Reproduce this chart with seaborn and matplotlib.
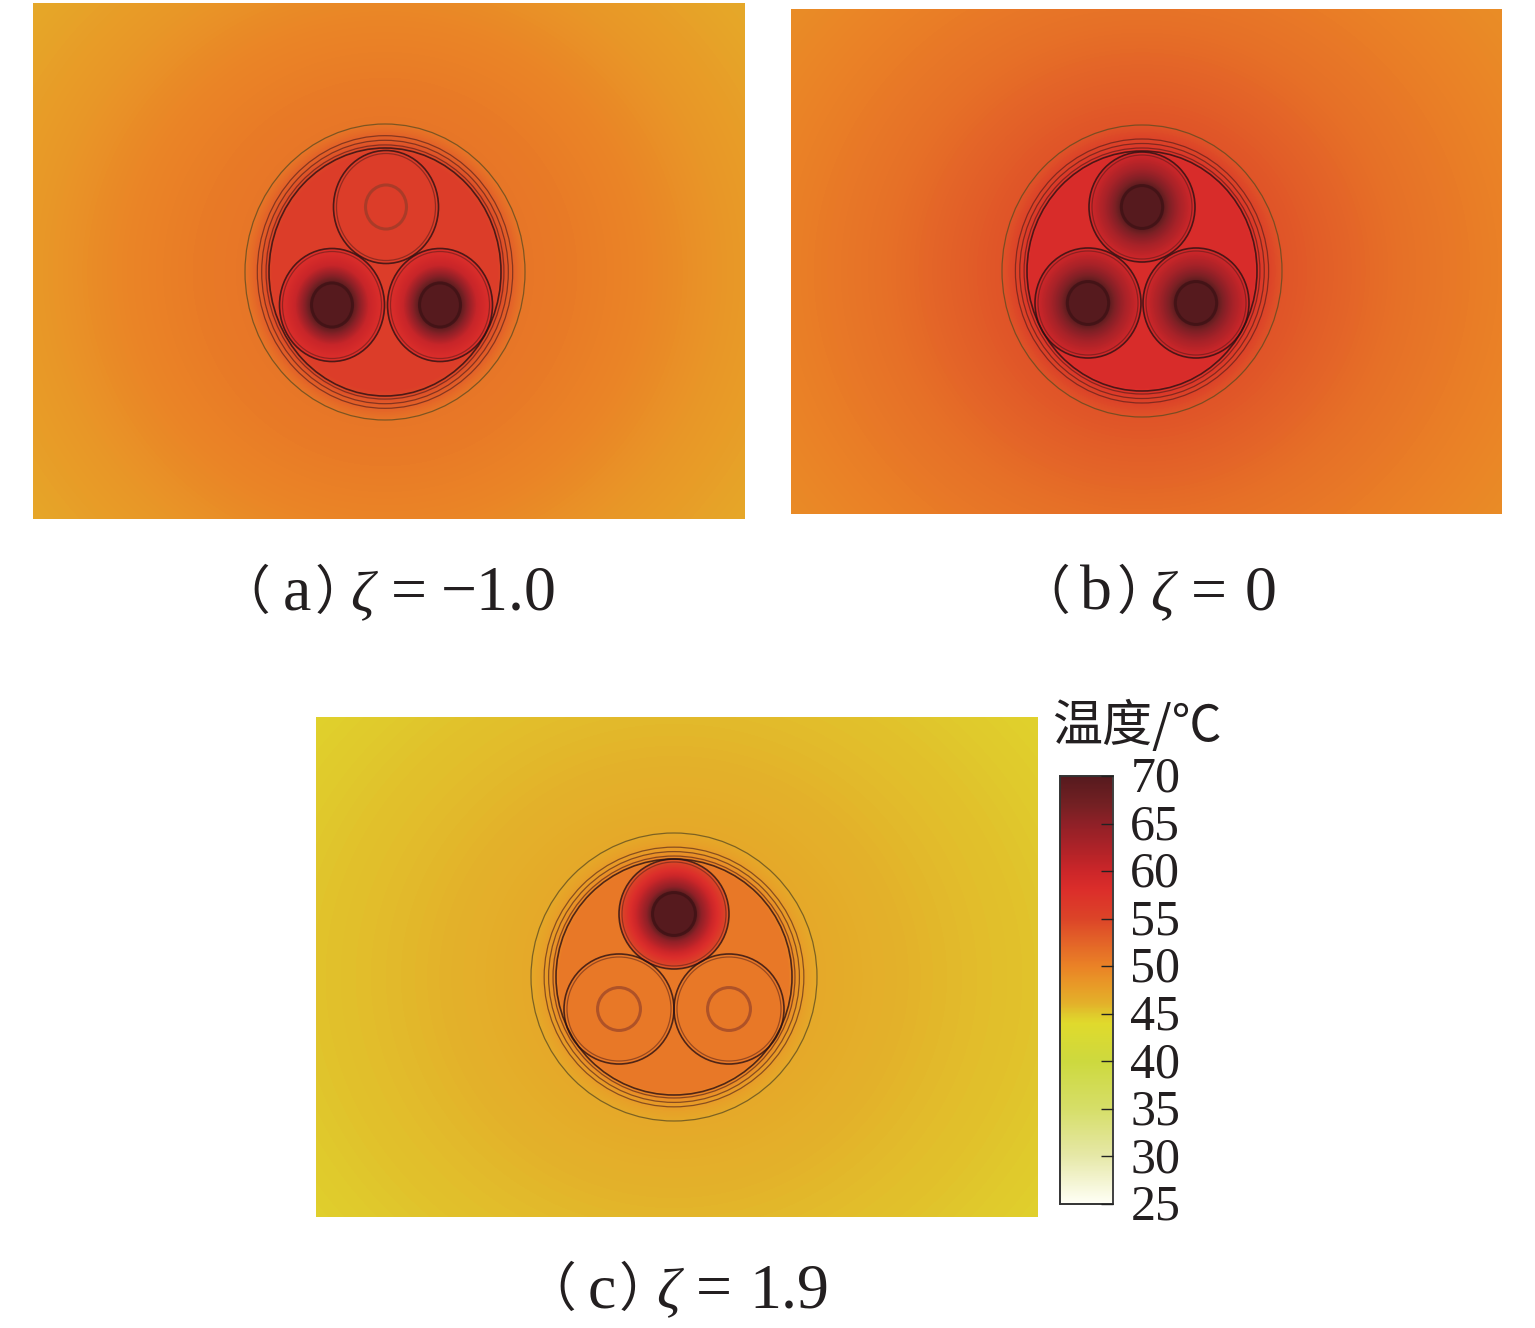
import numpy as np
import matplotlib
matplotlib.use("Agg")
import matplotlib.pyplot as plt
from matplotlib.colors import LinearSegmentedColormap
from matplotlib.patches import Ellipse
from matplotlib.transforms import ScaledTranslation
import seaborn as sns

W, H = 1535, 1328

# colour scale
scale_temps = [25, 30, 35, 40, 44, 45, 46, 48, 50, 53, 55, 58, 60, 62, 65, 67, 70]
scale_colors = ["#fffff6", "#e6e8a8", "#d6de68", "#cdd93e", "#e0da2c", "#e0c82c", "#e3b22a",
                "#e89a27", "#ea8226", "#e25e28", "#dc4428", "#dc2e2a", "#cc2629", "#b32328",
                "#8f2027", "#742023", "#561a1e"]
bar_ticks = [25, 30, 35, 40, 45, 50, 55, 60, 65, 70]

# panel boxes in picture pixels: left, top, right, bottom
box_a = [33, 3, 745, 519]
box_b = [791, 9, 1502, 514]
box_c = [316, 717, 1038, 1217]

# cable geometry in picture pixels
center_a = [385, 272]; outer_a = [140, 148]; jacket_a = [116, 124]
center_b = [1142, 271]; outer_b = [140, 146]; jacket_b = [115, 120]
center_c = [674, 977]; outer_c = [143, 144]; jacket_c = [118, 118]
cores_a = [[386, 207], [332, 305], [440, 305]]; core_r_a = [52.5, 56.5]
cores_b = [[1142, 207], [1088, 303], [1196, 303]]; core_r_b = [53, 55]
cores_c = [[674, 914], [619, 1009], [729, 1009]]; core_r_c = [55, 55]

# temperature read along the distance from the cable axis (1 = outer sheath)
dist_stops = [0, 0.80, 0.88, 1.0, 1.3, 1.7, 2.2, 2.8, 3.3]
temps_a = [56, 56, 53.5, 51, 50.6, 49.8, 48.3, 47, 46.5]
temps_b = [58.5, 58.5, 55.5, 53.8, 52.8, 51.5, 50.4, 49.2, 48.8]
temps_c = [50.8, 50.8, 48, 46.8, 46.3, 45.8, 45.3, 44.6, 44]

# temperature read along the radius of one core (1 = core edge)
core_stops = [0, 0.38, 0.5, 0.7, 0.9, 1.0]
hot_a = [70, 70, 66, 60.5, 58.5, 57.5]
hot_b = [70, 70, 66.5, 63, 60.5, 59]
hot_c = [70, 70, 65, 60, 56, 53]
loaded_a = [False, True, True]
loaded_b = [True, True, True]
loaded_c = [True, False, False]

panels = [
    (box_a, center_a, outer_a, jacket_a, cores_a, core_r_a, temps_a, hot_a, loaded_a),
    (box_b, center_b, outer_b, jacket_b, cores_b, core_r_b, temps_b, hot_b, loaded_b),
    (box_c, center_c, outer_c, jacket_c, cores_c, core_r_c, temps_c, hot_c, loaded_c),
]

sns.set_theme(style="white")
cmap = LinearSegmentedColormap.from_list(
    "temp", [((t - 25) / 45, c) for t, c in zip(scale_temps, scale_colors)], N=512)

fig = plt.figure(figsize=(W / 100, H / 100), dpi=100, facecolor="white")


def axes_at(left, top, right, bottom):
    return fig.add_axes([left / W, 1 - bottom / H, (right - left) / W, (bottom - top) / H])


cbar_ax = axes_at(1060, 776, 1113, 1204)

for i, (box, center, outer, jacket, cores, core_r, temps, hot, loaded) in enumerate(panels):
    ax = axes_at(*box)
    px = np.arange(box[0], box[2]) + 0.5
    py = np.arange(box[1], box[3]) + 0.5
    X, Y = np.meshgrid(px, py)
    iso = np.hypot((X - center[0]) / outer[0], (Y - center[1]) / outer[1])
    wide = np.hypot((X - center[0]) / outer[0] / 1.2, (Y - center[1]) / outer[1])
    dist = np.where(iso <= 1, iso, 1 + (iso - 1) * wide / np.maximum(iso, 1e-6))
    field = np.interp(dist, dist_stops, temps)
    for (cx, cy), on in zip(cores, loaded):
        r = np.hypot((X - cx) / core_r[0], (Y - cy) / core_r[1])
        if on:
            field = np.where(r <= 1, np.interp(r, core_stops, hot), field)
    sns.heatmap(field, ax=ax, cmap=cmap, vmin=25, vmax=70, xticklabels=False, yticklabels=False,
                cbar=i == 0, cbar_ax=cbar_ax if i == 0 else None,
                cbar_kws={"ticks": bar_ticks} if i == 0 else None)
    ax.tick_params(left=False, bottom=False)

    def ring(cx, cy, rx, ry, color, lw, alpha=1.0):
        ax.add_patch(Ellipse((cx - box[0], cy - box[1]), 2 * rx, 2 * ry, fill=False,
                             edgecolor=color, lw=lw, alpha=alpha))

    cx0, cy0 = center
    ring(cx0, cy0, outer[0], outer[1], "#5a4a20", 0.9, 0.75)
    for f in (1.08, 1.05, 1.02):
        ring(cx0, cy0, jacket[0] * f + (f - 1) * 30, jacket[1] * f + (f - 1) * 30, "#4a1a18", 0.9, 0.6)
    ring(cx0, cy0, jacket[0], jacket[1], "#2a1012", 1.2, 0.8)
    for (cx, cy), on in zip(cores, loaded):
        ring(cx, cy, core_r[0], core_r[1], "#2a1012", 1.2, 0.8)
        ring(cx, cy, core_r[0] - 3, core_r[1] - 3, "#4a1a18", 0.9, 0.5)
        ring(cx, cy, core_r[0] * 0.39, core_r[1] * 0.39, "#3f1215" if on else "#8a3a28", 2.2,
             0.8 if on else 0.6)

cbar_ax.set_axisbelow(False)
cbar_ax.tick_params(direction="in", length=8.5, width=1.0, color="#222222", right=True, left=False,
                    labelsize=36, labelcolor="#231f20", pad=12.5)
nudge = ScaledTranslation(0, 2 / 100, fig.dpi_scale_trans)
for lab in cbar_ax.get_yticklabels():
    lab.set_family("Liberation Serif")
    lab.set_transform(lab.get_transform() + nudge)
for sp in cbar_ax.spines.values():
    sp.set_visible(True)
    sp.set_color("#333333")
    sp.set_linewidth(1.2)
cbar_ax.spines["right"].set_color("#888888")


def put(x, y, s, family="Liberation Serif", size=46, style="normal"):
    fig.text(x / W, 1 - y / H, s, family=family, fontsize=size, style=style, color="#231f20",
             ha="left", va="baseline")


CJK = "Noto Sans CJK SC"
put(1052, 741, "温度/℃", family=CJK, size=36)

# captions: opening bracket, letter, closing bracket, symbol, equals, value
caption_a = ["（", "a", "）", "ζ", "=", "−1.0"]
caption_b = ["（", "b", "）", "ζ", "=", "0"]
caption_c = ["（", "c", "）", "ζ", "=", "1.9"]
for parts, xs, base in [
    (caption_a, [217, 283, 315, 350, 391, 441], 610),
    (caption_b, [1017, 1080, 1117, 1150, 1191, 1245], 610),
    (caption_c, [523, 588, 619, 656, 696, 749], 1307),
]:
    put(xs[0], base - 1, parts[0], family=CJK, size=38)
    put(xs[1], base, parts[1])
    put(xs[2], base - 1, parts[2], family=CJK, size=38)
    put(xs[3], base, parts[3], style="italic", size=42)
    put(xs[4], base, parts[4])
    put(xs[5], base, parts[5])

fig.savefig("out.png", dpi=100, facecolor="white")
